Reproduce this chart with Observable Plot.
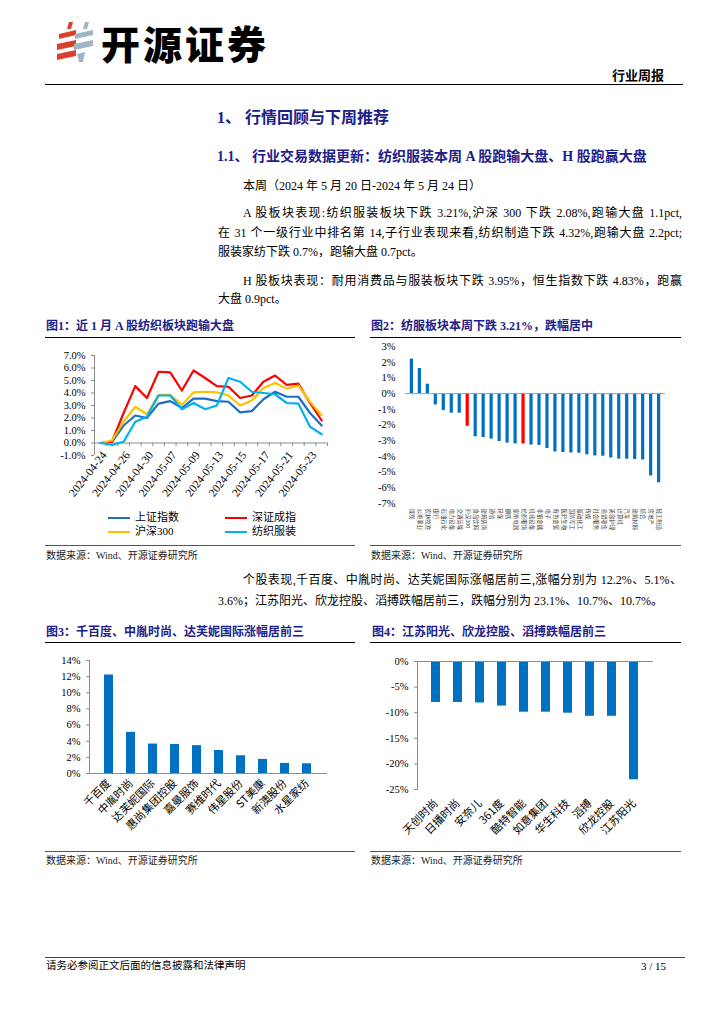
<!DOCTYPE html>
<html><head><meta charset="utf-8">
<script src="https://cdn.jsdelivr.net/npm/d3@7"></script>
<script src="https://cdn.jsdelivr.net/npm/@observablehq/plot@0.6"></script>
<style>
html,body{margin:0;padding:0;background:#fff}
body{width:724px;height:1024px;position:relative;overflow:hidden;font-family:"Liberation Serif","Noto Sans CJK SC",serif;color:#000}
.abs{position:absolute;white-space:nowrap;line-height:1}
.h{color:#1d2088;font-weight:bold}
.tx{font-size:12px}
.just{text-align:justify;text-align-last:justify}
.rule{position:absolute;height:0;border-top:1px solid #000}
.src{font-size:10px;color:#222}
.lg{position:absolute;font-size:11px;line-height:1;white-space:nowrap}
.lg i{display:inline-block;width:22px;height:0;border-top:2.5px solid;vertical-align:middle;margin-right:5px}
</style></head><body>

<svg class="abs" style="left:55px;top:20px" width="42" height="44" viewBox="0 0 42 44">
  <g fill="#d9412f">
    <polygon points="14,2 18,2 16,9 12,9"/>
    <polygon points="4,14 21,10 21,15 4,19"/>
    <polygon points="2,24 21,20 21,26 2,30"/>
    <polygon points="2,34 21,30 21,36 2,40"/>
  </g>
  <g fill="#9fb4c4">
    <polygon points="30,2 34,2 32,9 28,9"/>
    <polygon points="20,14 38,10 38,15 20,19"/>
    <polygon points="19,24 38,20 38,26 19,30"/>
    <polygon points="22,34 30,32 28,42 24,42"/>
  </g>
</svg>
<div class="abs" style="left:101px;top:23px;font-size:39px;font-weight:900;letter-spacing:3px;font-family:'Noto Sans CJK SC'">开源证券</div>
<div class="abs" style="left:612px;top:68px;font-size:13px;font-weight:bold;font-family:'Noto Sans CJK SC'">行业周报</div>
<div class="rule" style="left:45px;top:84px;width:638px;border-top:1.5px solid #000"></div>

<div class="abs h" style="left:217px;top:110px;font-size:16px">1、 行情回顾与下周推荐</div>
<div class="abs h" style="left:217px;top:150px;font-size:14px">1.1、 行业交易数据更新：纺织服装本周 A 股跑输大盘、H 股跑赢大盘</div>

<div class="abs tx" style="left:243px;top:180px">本周（2024 年 5 月 20 日-2024 年 5 月 24 日）</div>
<div class="abs tx just" style="left:243px;top:207px;width:439px">A 股板块表现:纺织服装板块下跌 3.21%,沪深 300 下跌 2.08%,跑输大盘 1.1pct,</div>
<div class="abs tx just" style="left:218px;top:227px;width:464px">在 31 个一级行业中排名第 14,子行业表现来看,纺织制造下跌 4.32%,跑输大盘 2.2pct;</div>
<div class="abs tx" style="left:218px;top:246px">服装家纺下跌 0.7%，跑输大盘 0.7pct。</div>
<div class="abs tx just" style="left:243px;top:275px;width:439px">H 股板块表现：耐用消费品与服装板块下跌 3.95%，恒生指数下跌 4.83%，跑赢</div>
<div class="abs tx" style="left:218px;top:293px">大盘 0.9pct。</div>

<div class="abs h" style="left:46px;top:320px;font-size:12px">图1：近 1 月 A 股纺织板块跑输大盘</div>
<div class="rule" style="left:45px;top:337px;width:310px"></div>
<div class="abs h" style="left:371px;top:320px;font-size:12px">图2：纺服板块本周下跌 3.21%，跌幅居中</div>
<div class="rule" style="left:370px;top:337px;width:311px"></div>

<div id="c1" class="abs" style="left:45px;top:340px"></div>
<div id="c2" class="abs" style="left:360px;top:340px"></div>

<div class="lg" style="left:108px;top:512px"><i style="border-color:#1f6fc1"></i>上证指数</div>
<div class="lg" style="left:225px;top:512px"><i style="border-color:#ff0000"></i>深证成指</div>
<div class="lg" style="left:108px;top:526px"><i style="border-color:#ffc000"></i>沪深300</div>
<div class="lg" style="left:225px;top:526px"><i style="border-color:#00b0f0"></i>纺织服装</div>

<div class="rule" style="left:45px;top:545px;width:310px;border-color:#555"></div>
<div class="abs src" style="left:46px;top:551px">数据来源：Wind、开源证券研究所</div>
<div class="rule" style="left:370px;top:545px;width:311px;border-color:#555"></div>
<div class="abs src" style="left:371px;top:551px">数据来源：Wind、开源证券研究所</div>

<div class="abs tx just" style="left:243px;top:574px;width:439px">个股表现,千百度、中胤时尚、达芙妮国际涨幅居前三,涨幅分别为 12.2%、5.1%、</div>
<div class="abs tx" style="left:218px;top:595px">3.6%；江苏阳光、欣龙控股、滔搏跌幅居前三，跌幅分别为 23.1%、10.7%、10.7%。</div>

<div class="abs h" style="left:46px;top:626px;font-size:12px">图3：千百度、中胤时尚、达芙妮国际涨幅居前三</div>
<div class="rule" style="left:45px;top:642px;width:310px"></div>
<div class="abs h" style="left:372px;top:626px;font-size:12px">图4：江苏阳光、欣龙控股、滔搏跌幅居前三</div>
<div class="rule" style="left:370px;top:642px;width:311px"></div>

<div id="c3" class="abs" style="left:45px;top:645px"></div>
<div id="c4" class="abs" style="left:365px;top:645px"></div>

<div class="rule" style="left:45px;top:851px;width:310px;border-color:#555"></div>
<div class="abs src" style="left:46px;top:856px">数据来源：Wind、开源证券研究所</div>
<div class="rule" style="left:370px;top:851px;width:311px;border-color:#555"></div>
<div class="abs src" style="left:371px;top:856px">数据来源：Wind、开源证券研究所</div>

<div class="rule" style="left:45px;top:957px;width:640px;border-top:1.5px solid #444"></div>
<div class="abs" style="left:46px;top:961px;font-size:10.5px">请务必参阅正文后面的信息披露和法律声明</div>
<div class="abs" style="left:641px;top:961px;font-size:11px">3 / 15</div>

<script>
// ---------- Chart 1 data ----------
const dates1 = ["2024-04-24","2024-04-25","2024-04-26","2024-04-29","2024-04-30","2024-05-06","2024-05-07","2024-05-08","2024-05-09","2024-05-10","2024-05-13","2024-05-14","2024-05-15","2024-05-16","2024-05-17","2024-05-20","2024-05-21","2024-05-22","2024-05-23","2024-05-24"];
const seriesNames1 = ["上证指数","深证成指","沪深300","纺织服装"];
const seriesColors1 = ["#1f6fc1","#ff0000","#ffc000","#00b0f0"];
const shIndex = [0,0.1,1.4,2.2,2.0,3.15,3.35,2.8,3.55,3.55,3.35,3.3,2.45,2.55,3.5,4.1,3.7,3.7,2.4,1.4];
const szIndex = [0,0.1,2.4,4.55,3.6,5.7,5.65,4.2,5.8,5.2,4.55,4.5,3.6,3.8,4.9,5.4,4.65,4.75,3.2,1.8];
const hs300 = [0,0.2,1.7,2.9,2.3,3.85,3.85,3.05,4.05,4.1,4.05,3.8,3.0,3.4,4.4,4.8,4.35,4.6,3.3,2.2];
const textile = [0,-0.15,0.1,1.7,2.1,3.8,3.8,2.7,3.2,2.7,3.0,5.2,4.9,4.1,4.0,3.9,3.2,3.15,1.3,0.7];
const yTicks1 = [-1,0,1,2,3,4,5,6,7];

// ---------- Chart 2 data ----------
const industries = ["煤炭","公用事业","农林牧渔","银行","石油石化","电力设备","交通运输","沪深300","食品饮料","建筑装饰","通信","环保","钢铁","家用电器","纺织服饰","机械设备","非银金融","电子","有色金属","医药生物","国防军工","基础化工","传媒","社会服务","商贸零售","美容护理","计算机","汽车","建筑材料","综合","房地产","轻工制造"];
const weekChange = [2.2,1.6,0.6,-0.72,-1.08,-1.25,-1.25,-2.08,-2.75,-2.8,-2.9,-3.05,-3.15,-3.2,-3.21,-3.28,-3.3,-3.5,-3.72,-3.75,-3.78,-3.8,-3.9,-3.97,-3.99,-4.1,-4.17,-4.18,-4.2,-4.23,-5.25,-5.68];
const highlighted = ["沪深300","纺织服饰"];
const yTicks2 = [-7,-6,-5,-4,-3,-2,-1,0,1,2,3];

// ---------- Chart 3 data ----------
const gainers = ["千百度","中胤时尚","达芙妮国际","惠尚集团控股","嘉曼服饰","赛维时代","伟星股份","ST美康","新澳股份","水星家纺"];
const gains = [12.2,5.1,3.65,3.6,3.45,2.85,2.2,1.75,1.25,1.2];
const yTicks3 = [0,2,4,6,8,10,12,14];

// ---------- Chart 4 data ----------
const losers = ["天创时尚","日播时尚","安奈儿","361度","酷特智能","如意集团","华生科技","滔搏","欣龙控股","江苏阳光"];
const losses = [-8.0,-8.0,-8.1,-8.7,-9.9,-9.9,-10.1,-10.7,-10.7,-23.1];
const yTicks4 = [-25,-20,-15,-10,-5,0];

const serif = "'Liberation Serif','Noto Sans CJK SC',serif";
const cjk = "'Noto Sans CJK SC',sans-serif";
const axisGray = "#8c8c8c";

// ---------- Chart 1 ----------
const series1 = [shIndex, szIndex, hs300, textile];
const rows1 = seriesNames1.flatMap((s,k)=>dates1.map((d,i)=>({i, date:d, series:s, value:series1[k][i]})));
const idx1 = dates1.map((d,i)=>i);
const c1 = Plot.plot({
  width:310, height:170, marginLeft:49, marginRight:28, marginTop:15, marginBottom:55,
  x:{domain:[-0.5, dates1.length-0.5], axis:null},
  y:{domain:[-1,7], axis:null},
  color:{domain:seriesNames1, range:seriesColors1},
  style:{fontFamily:serif, fontSize:"10.5px", background:"transparent", color:"#000", overflow:"visible"},
  marks:[
    Plot.ruleX([-0.5], {stroke:axisGray}),
    Plot.ruleY([0], {stroke:axisGray}),
    Plot.ruleX(idx1.map(i=>i+0.5), {y1:0, y2:-0.28, stroke:axisGray}),
    Plot.axisY({ticks:yTicks1, tickFormat:d=>d.toFixed(1)+"%", tickSize:3, tickPadding:6, stroke:axisGray, fontSize:10.5, label:null}),
    Plot.line(rows1, {x:"i", y:"value", stroke:"series", strokeWidth:2.2, curve:"linear"}),
    Plot.text(idx1.filter(i=>i%2===0), {x:d=>d, y:()=>0, text:d=>dates1[d], rotate:-52, textAnchor:"end", lineAnchor:"middle", dy:10, dx:4, fontSize:11.5})
  ]
});
document.getElementById("c1").append(c1);

// ---------- Chart 2 ----------
const rows2 = industries.map((n,i)=>({name:n, value:weekChange[i], hl:highlighted.includes(n)}));
const c2 = Plot.plot({
  width:330, height:205, marginLeft:45, marginRight:25, marginTop:6, marginBottom:42,
  x:{domain:industries, padding:0.6, axis:null},
  y:{domain:[-7,3], axis:null},
  color:{domain:[false,true], range:["#0070c0","#ff0000"]},
  style:{fontFamily:serif, fontSize:"10.5px", background:"transparent", color:"#000", overflow:"visible"},
  marks:[
    Plot.axisY({ticks:yTicks2, tickFormat:d=>d+"%", tickSize:0, tickPadding:10, fontSize:10.5, label:null}),
    Plot.barY(rows2, {x:"name", y:"value", fill:"hl"}),
    Plot.ruleY([0], {stroke:"#6fa8dc"}),
    Plot.text(industries, {x:d=>d, frameAnchor:"bottom", text:d=>d, rotate:90, textAnchor:"start", lineAnchor:"middle", dy:5, fontSize:5.4, fontFamily:cjk, fill:"#444"})
  ]
});
document.getElementById("c2").append(c2);

// ---------- Chart 3 ----------
const rows3 = gainers.map((n,i)=>({name:n, value:gains[i]}));
const c3 = Plot.plot({
  width:310, height:200, marginLeft:44, marginRight:28, marginTop:15, marginBottom:72,
  x:{domain:gainers, padding:0.58, axis:null},
  y:{domain:[0,14], axis:null},
  style:{fontFamily:serif, fontSize:"10.5px", background:"transparent", color:"#000", overflow:"visible"},
  marks:[
    Plot.frame({anchor:"left", stroke:axisGray}),
    Plot.axisY({ticks:yTicks3, tickFormat:d=>d+"%", tickSize:3, tickPadding:6, stroke:axisGray, fontSize:10.5, label:null}),
    Plot.barY(rows3, {x:"name", y:"value", fill:"#0070c0"}),
    Plot.ruleY([0], {stroke:axisGray}),
    Plot.axisX({tickRotate:-45, tickSize:0, tickPadding:8, fontSize:11, fontFamily:cjk, label:null})
  ]
});
document.getElementById("c3").append(c3);

// ---------- Chart 4 ----------
const rows4 = losers.map((n,i)=>({name:n, value:losses[i]}));
const c4 = Plot.plot({
  width:320, height:200, marginLeft:52, marginRight:32, marginTop:16, marginBottom:56,
  x:{domain:losers, padding:0.58, axis:null},
  y:{domain:[-25,0], axis:null},
  style:{fontFamily:serif, fontSize:"10.5px", background:"transparent", color:"#000", overflow:"visible"},
  marks:[
    Plot.frame({anchor:"left", stroke:axisGray}),
    Plot.axisY({ticks:yTicks4, tickFormat:d=>d+"%", tickSize:3, tickPadding:6, stroke:axisGray, fontSize:10.5, label:null}),
    Plot.barY(rows4, {x:"name", y:"value", fill:"#0070c0"}),
    Plot.ruleY([0], {stroke:axisGray}),
    Plot.axisX({anchor:"bottom", tickRotate:-45, tickSize:0, tickPadding:12, fontSize:11, fontFamily:cjk, label:null})
  ]
});
document.getElementById("c4").append(c4);
</script>
</body></html>
